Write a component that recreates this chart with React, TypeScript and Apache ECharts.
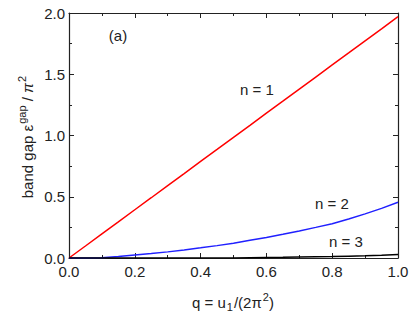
import React, { useEffect, useRef } from "react";
import * as echarts from "echarts";

const qValues = [0, 0.05, 0.1, 0.15, 0.2, 0.25, 0.3, 0.35, 0.4, 0.45, 0.5, 0.55, 0.6, 0.65, 0.7, 0.75, 0.8, 0.85, 0.9, 0.95, 1.0];
const n1Values = [0, 0.098, 0.197, 0.295, 0.394, 0.492, 0.591, 0.689, 0.788, 0.886, 0.985, 1.083, 1.182, 1.28, 1.379, 1.477, 1.576, 1.674, 1.773, 1.871, 1.97];
const n2Values = [0, 0, 0.003, 0.012, 0.024, 0.036, 0.05, 0.066, 0.083, 0.101, 0.12, 0.144, 0.168, 0.194, 0.221, 0.25, 0.28, 0.318, 0.36, 0.405, 0.455];
const n3Values = [0, 0, 0, 0, 0, 0, 0, 0, 0, 0, 0.001, 0.003, 0.005, 0.006, 0.008, 0.01, 0.012, 0.015, 0.018, 0.022, 0.028];
const curveLabels = ["n = 1", "n = 2", "n = 3"];

const pairs = (ys: number[]) => qValues.map((q, i) => [q, ys[i]]);

export default function App() {
  const ref = useRef<HTMLDivElement>(null);
  useEffect(() => {
    if (!ref.current) return;
    document.body.style.margin = "0";
    const chart = echarts.init(ref.current, null, { renderer: "svg" });
    const font = "'Liberation Sans', Arial, sans-serif";
    const axisCommon = {
      axisLine: { show: true, onZero: false, lineStyle: { color: "#222", width: 1.2 } },
      axisTick: { show: true, inside: true, length: 5, lineStyle: { color: "#222", width: 1 } },
      minorTick: { show: true, splitNumber: 2, length: 3, lineStyle: { color: "#222", width: 1 } },
      splitLine: { show: false },
    };
    chart.setOption({
      animation: false,
      grid: { left: 69, right: 17, top: 13, bottom: 67 },
      xAxis: [
        {
          type: "value", min: 0, max: 1, interval: 0.2, position: "bottom",
          ...axisCommon,
          axisLabel: { color: "#222", fontSize: 15, fontFamily: font, margin: 6, formatter: (v: number) => v.toFixed(1) },
        },
        {
          type: "value", min: 0, max: 1, interval: 0.2, position: "top",
          ...axisCommon,
          axisLabel: { show: false },
        },
      ],
      yAxis: [
        {
          type: "value", min: 0, max: 2, interval: 0.5, position: "left",
          ...axisCommon,
          axisLabel: { color: "#222", fontSize: 15, fontFamily: font, margin: 4, formatter: (v: number) => v.toFixed(1) },
        },
        {
          type: "value", min: 0, max: 2, interval: 0.5, position: "right",
          ...axisCommon,
          axisLabel: { show: false },
        },
      ],
      series: [
        { type: "line", data: pairs(n1Values), showSymbol: false, lineStyle: { color: "#ff0000", width: 1.5 } },
        { type: "line", data: pairs(n2Values), showSymbol: false, lineStyle: { color: "#2020ff", width: 1.5 } },
        { type: "line", data: pairs(n3Values), showSymbol: false, lineStyle: { color: "#000000", width: 1.5 } },
      ],
      graphic: [
        { type: "text", x: 118, y: 35, style: { text: "(a)", fill: "#222", font: `15px ${font}`, align: "center", verticalAlign: "middle" } },
        { type: "text", x: 257, y: 89, style: { text: curveLabels[0], fill: "#222", font: `15px ${font}`, align: "center", verticalAlign: "middle" } },
        { type: "text", x: 332, y: 203, style: { text: curveLabels[1], fill: "#222", font: `15px ${font}`, align: "center", verticalAlign: "middle" } },
        { type: "text", x: 346, y: 241, style: { text: curveLabels[2], fill: "#222", font: `15px ${font}`, align: "center", verticalAlign: "middle" } },
        {
          type: "text", x: 27, y: 137, rotation: Math.PI / 2,
          style: {
            text: "band gap ε{sup|gap} / {it|π}{sup|2}",
            fill: "#222", font: `15px ${font}`, align: "center", verticalAlign: "middle",
            rich: {
              sup: { fontSize: 11, fontFamily: font, fill: "#222", padding: [0, 0, 10, 1] },
              it: { fontSize: 15, fontFamily: font, fontStyle: "italic", fill: "#222" },
            },
          },
        },
        {
          type: "text", x: 233, y: 302,
          style: {
            text: "q = u{sub|1}/(2π{sup|2})",
            fill: "#222", font: `15px ${font}`, align: "center", verticalAlign: "middle",
            rich: {
              sub: { fontSize: 11, fontFamily: font, fill: "#222", padding: [10, 1, 0, 1] },
              sup: { fontSize: 11, fontFamily: font, fill: "#222", padding: [0, 0, 10, 1] },
            },
          },
        },
      ],
    });
    return () => chart.dispose();
  }, []);
  return <div ref={ref} style={{ width: 415, height: 325 }} />;
}
